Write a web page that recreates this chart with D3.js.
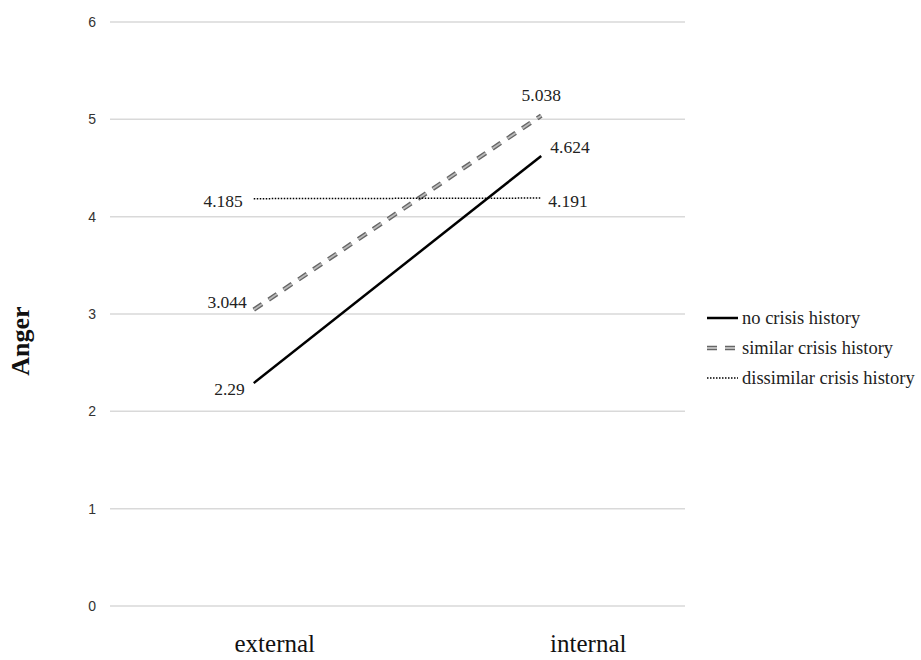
<!DOCTYPE html>
<html><head><meta charset="utf-8">
<script src="https://cdn.jsdelivr.net/npm/d3@7"></script>
<style>body{margin:0;background:#fff}</style>
</head><body>
<svg id="c" width="921" height="660"></svg>
<script>
const categories = ["external", "internal"];
const seriesNames = ["no crisis history", "similar crisis history", "dissimilar crisis history"];
const noCrisis = [2.29, 4.624];
const similarCrisis = [3.044, 5.038];
const dissimilarCrisis = [4.185, 4.191];
const yTicks = [0, 1, 2, 3, 4, 5, 6];
const yLabel = "Anger";

const series = [
  {name: seriesNames[0], values: noCrisis, labelPos: [[-9, 6, "end"], [9, -9, "start"]]},
  {name: seriesNames[1], values: similarCrisis, labelPos: [[-7, -8, "end"], [0, -21, "middle"]]},
  {name: seriesNames[2], values: dissimilarCrisis, labelPos: [[-11, 2, "end"], [7, 3, "start"]]}
];

const svg = d3.select("#c");
const x = d3.scaleBand().domain(categories).range([110, 685]);
const y = d3.scaleLinear().domain([0, 6]).range([606, 22]);
const serif = "'Liberation Serif','Times New Roman',serif";

// gridlines
svg.append("g").selectAll("line").data(yTicks).join("line")
  .attr("x1", 110).attr("x2", 685)
  .attr("y1", d => y(d)).attr("y2", d => y(d))
  .attr("stroke", "#d9d9d9").attr("stroke-width", 1.5);

const yAxis = svg.append("g").attr("transform", "translate(110,0)")
  .call(d3.axisLeft(y).tickValues(yTicks).tickSize(0).tickPadding(14).tickFormat(d3.format("d")));
yAxis.select(".domain").remove();
yAxis.selectAll("text").attr("font-family", "'Liberation Sans',Arial,sans-serif").attr("font-size", 14).attr("fill", "#333");

const xAxis = svg.append("g").attr("transform", "translate(0,606)")
  .call(d3.axisBottom(x).tickSize(0));
xAxis.select(".domain").remove();
xAxis.selectAll("text").attr("font-family", serif).attr("font-size", 25).attr("fill", "#111")
  .attr("y", 46).attr("dy", null)
  .attr("dx", (d, i) => i === 0 ? 21 : 47);

svg.append("text").attr("transform", "translate(29,341) rotate(-90)")
  .attr("text-anchor", "middle").attr("font-family", serif).attr("font-size", 26)
  .attr("font-weight", "bold").attr("fill", "#111").text(yLabel);

const line = d3.line().x((d, i) => x(categories[i]) + x.bandwidth() / 2).y(d => y(d));

function styleLine(sel, i) {
  if (i === 0) sel.attr("stroke", "#000").attr("stroke-width", 2.5);
  else if (i === 1) sel.attr("stroke", "#666").attr("stroke-width", 4.5).attr("stroke-dasharray", "10,8").attr("stroke-linecap", "butt");
  else sel.attr("stroke", "#000").attr("stroke-width", 1.5).attr("stroke-dasharray", "1.5,1.5");
  return sel;
}
function styleInner(sel) {
  return sel.attr("stroke", "#bbb").attr("stroke-width", 1.8).attr("stroke-dasharray", "10,8");
}

series.forEach((s, i) => {
  styleLine(svg.append("path").attr("d", line(s.values)).attr("fill", "none"), i);
  if (i === 1) styleInner(svg.append("path").attr("d", line(s.values)).attr("fill", "none"));
  s.values.forEach((v, j) => {
    const p = s.labelPos[j];
    svg.append("text")
      .attr("x", x(categories[j]) + x.bandwidth() / 2 + p[0])
      .attr("y", y(v) + p[1])
      .attr("dy", "0.35em")
      .attr("text-anchor", p[2])
      .attr("font-family", serif).attr("font-size", 17.5).attr("fill", "#222")
      .text(v);
  });
});

// legend
const lg = svg.append("g");
series.forEach((s, i) => {
  const yy = 318 + i * 30;
  styleLine(lg.append("line").attr("x1", 707).attr("x2", 738).attr("y1", yy).attr("y2", yy), i);
  if (i === 1) styleInner(lg.append("line").attr("x1", 707).attr("x2", 738).attr("y1", yy).attr("y2", yy));
  lg.append("text").attr("x", 742).attr("y", yy).attr("dy", "0.35em")
    .attr("font-family", serif).attr("font-size", 18.5).attr("fill", "#222").text(s.name);
});
</script>
</body></html>
